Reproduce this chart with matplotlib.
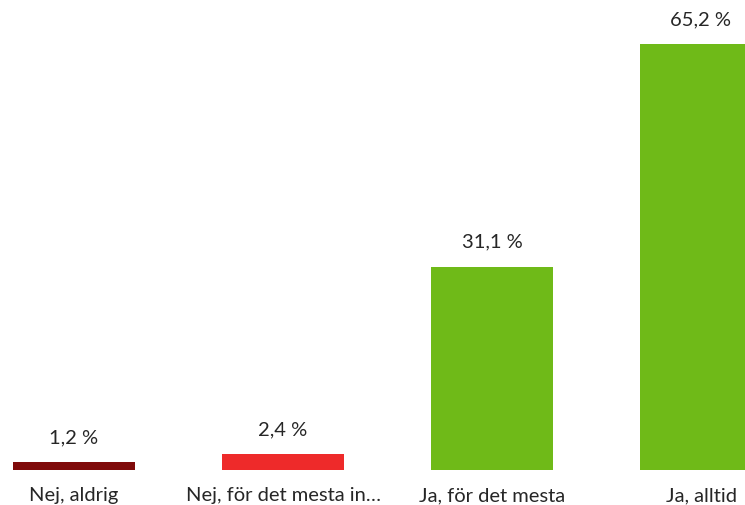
import matplotlib
matplotlib.use("Agg")
import matplotlib.pyplot as plt

categories = ["Nej, aldrig", "Nej, för det mesta in…", "Ja, för det mesta", "Ja, alltid"]
values = [1.2, 2.4, 31.1, 65.2]
colors = ["#7f0a0a", "#ee2a2a", "#6fba18", "#6fba18"]

plt.rcParams["font.family"] = ["Lato", "DejaVu Sans"]
text_color = "#262626"

fig = plt.figure(figsize=(7.45, 5.06), dpi=100)
ax = fig.add_axes([0, 35.5 / 506, 1, 470.5 / 506])

x = list(range(len(categories)))
bars = ax.bar(x, values, width=0.584, color=colors)

labels = [f"{v:.1f}".replace(".", ",") + " %" for v in values]
ax.bar_label(bars, labels=labels, padding=12, fontsize=14.5, color=text_color)

ax.set_xlim(-74 / 209, 671 / 209)
ax.set_ylim(0, 470.5 / 6.526)
ax.set_xticks(x)
ax.set_xticklabels(categories, fontsize=14.5, color=text_color)
ax.tick_params(axis="x", length=0, pad=12)
ax.set_yticks([])
for s in ax.spines.values():
    s.set_visible(False)

fig.savefig("out.png", dpi=100)
